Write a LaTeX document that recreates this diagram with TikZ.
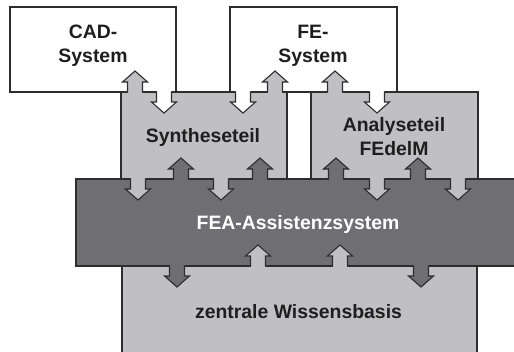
\documentclass[tikz,border=0pt]{standalone}
\usepackage{fontspec}
\setmainfont{Liberation Sans}

\definecolor{lightfill}{RGB}{192,192,196}
\definecolor{darkfill}{RGB}{110,110,115}
\definecolor{edgecol}{RGB}{45,45,45}
\definecolor{ink}{RGB}{30,30,30}

\tikzset{
  box/.style={draw=edgecol, line width=1.1pt, inner sep=0pt, outer sep=0pt, anchor=north west},
  outl/.style={draw=edgecol, line width=1.1pt, line join=miter},
  lbl/.style={font=\fontsize{19.4}{23.5}\selectfont\bfseries, text=ink, align=center, inner sep=0pt, anchor=base},
}

% Block arrow rooted on a box edge: #1 x, #2 edge y, #3 direction (1 down, -1 up), #4 fill
\newcommand\blockarrow[4]{%
  \begin{scope}[shift={(#1,#2)}, yscale=#3]
    \fill[#4] (-7.5,-1.6) -- (-7.5,10) -- (-12.5,10) -- (0,21) -- (12.5,10) -- (7.5,10) -- (7.5,-1.6) -- cycle;
    \draw[outl] (-7.5,-0.55) -- (-7.5,10) -- (-12.5,10) -- (0,21) -- (12.5,10) -- (7.5,10) -- (7.5,-0.55);
  \end{scope}}

\begin{document}
\begin{tikzpicture}[x=1pt, y=-1pt]
  \useasboundingbox (0,0) rectangle (514,351);

  % outer systems
  \node[box, fill=white, minimum width=166pt, minimum height=85pt] (cad) at (10,7) {};
  \node[box, fill=white, minimum width=167pt, minimum height=85pt] (fe) at (230,7) {};

  % knowledge base (behind the assistant layer)
  \node[box, fill=lightfill, minimum width=355pt, minimum height=160pt] (kb) at (122,200) {};

  % synthesis and analysis parts
  \node[box, fill=lightfill, minimum width=166pt, minimum height=100pt] (syn) at (121,92) {};
  \node[box, fill=lightfill, minimum width=167pt, minimum height=100pt] (ana) at (311,92) {};

  % assistant layer
  \node[box, fill=darkfill, minimum width=445pt, minimum height=87pt] (fea) at (76,179) {};

  % exchange arrows: CAD/FE <-> synthesis/analysis
  \blockarrow{135}{92}{-1}{lightfill}
  \blockarrow{164}{92}{1}{white}
  \blockarrow{243}{92}{1}{white}
  \blockarrow{275}{92}{-1}{lightfill}
  \blockarrow{335}{92}{-1}{lightfill}
  \blockarrow{377}{92}{1}{white}

  % synthesis/analysis <-> assistant
  \blockarrow{138}{179}{1}{lightfill}
  \blockarrow{181}{179}{-1}{darkfill}
  \blockarrow{221}{179}{1}{lightfill}
  \blockarrow{260}{179}{-1}{darkfill}
  \blockarrow{336}{179}{-1}{darkfill}
  \blockarrow{377}{179}{1}{lightfill}
  \blockarrow{418}{179}{-1}{darkfill}
  \blockarrow{458}{179}{1}{lightfill}

  % assistant <-> knowledge base
  \blockarrow{177}{266}{1}{darkfill}
  \blockarrow{258}{266}{-1}{lightfill}
  \blockarrow{340}{266}{-1}{lightfill}
  \blockarrow{421}{266}{1}{darkfill}

  % labels (base anchor sits on the last line of multi-line labels)
  \node[lbl] (tcad) at (93,62) {CAD-\\System};
  \node[lbl] (tfe) at (313,62) {FE-\\System};
  \node[lbl] (tsyn) at (203,142) {Syntheseteil};
  \node[lbl] (tana) at (394,155) {Analyseteil\\FEdelM};
  \node[lbl, text=white] (tfea) at (298,229) {FEA-Assistenzsystem};
  \node[lbl] (tkb) at (298.5,318) {zentrale Wissensbasis};
\end{tikzpicture}
\end{document}
